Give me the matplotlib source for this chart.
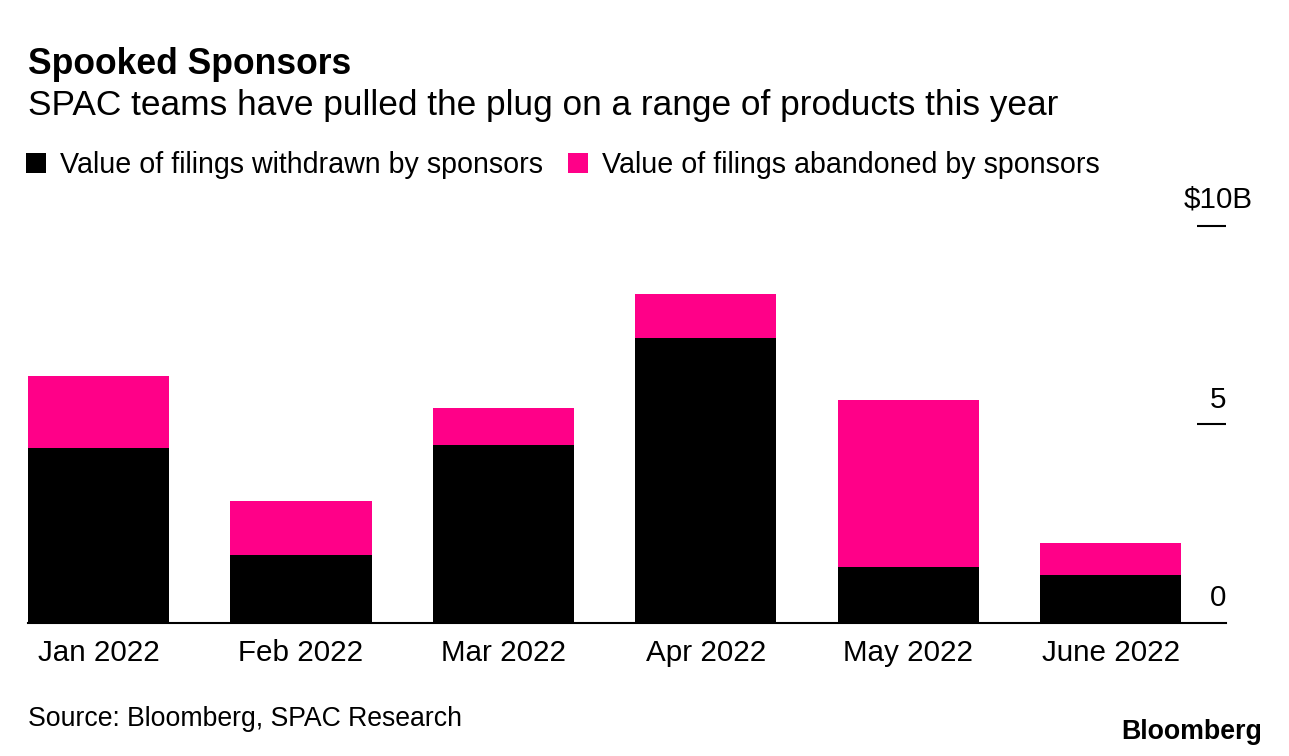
import numpy as np
import matplotlib.pyplot as plt
from matplotlib.patches import Patch
from matplotlib.transforms import blended_transform_factory

plt.rcParams['font.family'] = ['Liberation Sans', 'DejaVu Sans']

# Data ($B)
months = ["Jan 2022", "Feb 2022", "Mar 2022", "Apr 2022", "May 2022", "June 2022"]
withdrawn = [4.41, 1.71, 4.47, 7.18, 1.40, 1.20]
abandoned = [1.81, 1.35, 0.93, 1.09, 4.21, 0.80]
yticks = [0, 5, 10]
ytick_labels = ["0", "5", "$10B"]

black = "#000000"
pink = "#ff0088"

W, H = 1289, 756
fig = plt.figure(figsize=(W / 100, H / 100), dpi=100)
ax = fig.add_axes([28 / W, 1 - 622.7 / H, 1198 / W, 397 / H])

x = np.arange(len(months))
ax.bar(x, withdrawn, width=0.697, color=black, label="Value of filings withdrawn by sponsors")
ax.bar(x, abandoned, width=0.697, bottom=withdrawn, color=pink,
       label="Value of filings abandoned by sponsors")

ax.set_xlim(-0.3485, 5.57)
ax.set_ylim(0, 10)

for s in ["top", "left", "right"]:
    ax.spines[s].set_visible(False)
ax.spines["bottom"].set_linewidth(1.5)
ax.spines["bottom"].set_color("#000000")

ax.set_xticks(x)
ax.set_xticklabels(months, fontsize=21.3)
ax.tick_params(axis="x", length=0, pad=12)

# right-side tick marks with labels above them
ax.yaxis.tick_right()
ax.set_yticks(yticks[1:])
ax.set_yticklabels([])
ax.tick_params(axis="y", direction="in", length=21, width=1.5, colors="#000000")
trans = blended_transform_factory(ax.transAxes, ax.transData)
for v, lab in zip(yticks, ytick_labels):
    dx = 19 if lab.startswith("$") else 0
    dy = 13 if lab.startswith("$") else 12
    ax.annotate(lab, xy=(1, v), xycoords=trans, xytext=(dx, dy), textcoords="offset points",
                ha="right", va="baseline", fontsize=21.3)

# title block
fig.text(28 / W, 1 - 74 / H, "Spooked Sponsors", fontsize=25.6, fontweight="bold",
         va="baseline", ha="left")
fig.text(28 / W, 1 - 115 / H, "SPAC teams have pulled the plug on a range of products this year",
         fontsize=25.4, va="baseline", ha="left")

handles = [Patch(facecolor=black), Patch(facecolor=pink)]
labels = ["Value of filings withdrawn by sponsors", "Value of filings abandoned by sponsors"]
fig.legend(handles, labels, loc="center left", bbox_to_anchor=(26 / W, 1 - 165 / H), ncol=2,
           frameon=False, fontsize=20.6, handlelength=0.7, handleheight=0.7,
           handletextpad=0.49, columnspacing=0.87, borderpad=0, borderaxespad=0)

fig.text(28 / W, 1 - 719 / H, "Source: Bloomberg, SPAC Research", fontsize=19.2, va="center", ha="left")
fig.text(1262 / W, 1 - 732 / H, "Bloomberg", fontsize=19.3, fontweight="bold", va="center", ha="right")

fig.savefig("out.png", dpi=100)
